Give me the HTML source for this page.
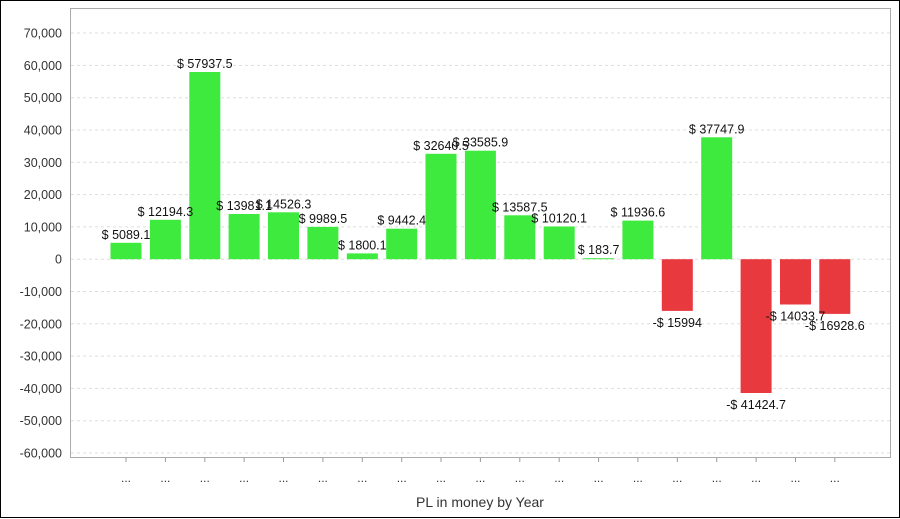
<!DOCTYPE html>
<html><head><style>body{margin:0;background:#fff}svg{display:block;font-family:"Liberation Sans",Arial,sans-serif}</style></head><body>
<svg width="900" height="519" xmlns="http://www.w3.org/2000/svg">
<rect x="0.5" y="0.5" width="899" height="517" fill="#fff" stroke="#000"/>
<rect x="70.5" y="8.5" width="820" height="449" fill="#fff" stroke="#aaa"/>
<g stroke="#ddd" stroke-dasharray="3,3">
<line x1="71" x2="890" y1="33" y2="33"/><line x1="71" x2="890" y1="65.4" y2="65.4"/><line x1="71" x2="890" y1="97.7" y2="97.7"/><line x1="71" x2="890" y1="130" y2="130"/><line x1="71" x2="890" y1="162.3" y2="162.3"/><line x1="71" x2="890" y1="194.6" y2="194.6"/><line x1="71" x2="890" y1="226.9" y2="226.9"/><line x1="71" x2="890" y1="259.2" y2="259.2"/><line x1="71" x2="890" y1="291.5" y2="291.5"/><line x1="71" x2="890" y1="323.8" y2="323.8"/><line x1="71" x2="890" y1="356.1" y2="356.1"/><line x1="71" x2="890" y1="388.4" y2="388.4"/><line x1="71" x2="890" y1="420.7" y2="420.7"/><line x1="71" x2="890" y1="453" y2="453"/>
</g>
<g font-size="12.5" text-anchor="end" fill="#333">
<text x="62" y="37.5">70,000</text><text x="62" y="69.9">60,000</text><text x="62" y="102.2">50,000</text><text x="62" y="134.5">40,000</text><text x="62" y="166.8">30,000</text><text x="62" y="199.1">20,000</text><text x="62" y="231.4">10,000</text><text x="62" y="263.7">0</text><text x="62" y="296">-10,000</text><text x="62" y="328.3">-20,000</text><text x="62" y="360.6">-30,000</text><text x="62" y="392.9">-40,000</text><text x="62" y="425.2">-50,000</text><text x="62" y="457.5">-60,000</text>
</g>
<g fill="#3dea3d">
<rect x="110.5" y="242.8" width="31" height="16.4"/>
<rect x="149.9" y="219.8" width="31" height="39.4"/>
<rect x="189.3" y="72" width="31" height="187.2"/>
<rect x="228.6" y="214" width="31" height="45.2"/>
<rect x="268" y="212.3" width="31" height="46.9"/>
<rect x="307.4" y="226.9" width="31" height="32.3"/>
<rect x="346.8" y="253.4" width="31" height="5.8"/>
<rect x="386.2" y="228.7" width="31" height="30.5"/>
<rect x="425.5" y="153.8" width="31" height="105.4"/>
<rect x="464.9" y="150.7" width="31" height="108.5"/>
<rect x="504.3" y="215.3" width="31" height="43.9"/>
<rect x="543.7" y="226.5" width="31" height="32.7"/>
<rect x="583.1" y="258.2" width="31" height="1"/>
<rect x="622.4" y="220.6" width="31" height="38.6"/>
<rect x="701.2" y="137.3" width="31" height="121.9"/>
</g>
<g fill="#e8393f">
<rect x="661.8" y="259.2" width="31" height="51.7"/>
<rect x="740.6" y="259.2" width="31" height="133.8"/>
<rect x="780" y="259.2" width="31" height="45.3"/>
<rect x="819.3" y="259.2" width="31" height="54.7"/>
</g>
<g font-size="12.5" text-anchor="middle" fill="#111">
<text x="126" y="238.8">$ 5089.1</text>
<text x="165.4" y="215.8">$ 12194.3</text>
<text x="204.8" y="68">$ 57937.5</text>
<text x="244.1" y="210">$ 13981.1</text>
<text x="283.5" y="208.3">$ 14526.3</text>
<text x="322.9" y="222.9">$ 9989.5</text>
<text x="362.3" y="249.4">$ 1800.1</text>
<text x="401.7" y="224.7">$ 9442.4</text>
<text x="441" y="149.8">$ 32640.5</text>
<text x="480.4" y="146.7">$ 33585.9</text>
<text x="519.8" y="211.3">$ 13587.5</text>
<text x="559.2" y="222.5">$ 10120.1</text>
<text x="598.6" y="254.2">$ 183.7</text>
<text x="637.9" y="216.6">$ 11936.6</text>
<text x="677.3" y="326.9">-$ 15994</text>
<text x="716.7" y="133.3">$ 37747.9</text>
<text x="756.1" y="409">-$ 41424.7</text>
<text x="795.5" y="320.5">-$ 14033.7</text>
<text x="834.8" y="329.9">-$ 16928.6</text>
</g>
<g stroke="#999">
<line x1="126" x2="126" y1="458" y2="462"/><line x1="165.4" x2="165.4" y1="458" y2="462"/><line x1="204.8" x2="204.8" y1="458" y2="462"/><line x1="244.1" x2="244.1" y1="458" y2="462"/><line x1="283.5" x2="283.5" y1="458" y2="462"/><line x1="322.9" x2="322.9" y1="458" y2="462"/><line x1="362.3" x2="362.3" y1="458" y2="462"/><line x1="401.7" x2="401.7" y1="458" y2="462"/><line x1="441" x2="441" y1="458" y2="462"/><line x1="480.4" x2="480.4" y1="458" y2="462"/><line x1="519.8" x2="519.8" y1="458" y2="462"/><line x1="559.2" x2="559.2" y1="458" y2="462"/><line x1="598.6" x2="598.6" y1="458" y2="462"/><line x1="637.9" x2="637.9" y1="458" y2="462"/><line x1="677.3" x2="677.3" y1="458" y2="462"/><line x1="716.7" x2="716.7" y1="458" y2="462"/><line x1="756.1" x2="756.1" y1="458" y2="462"/><line x1="795.5" x2="795.5" y1="458" y2="462"/><line x1="834.8" x2="834.8" y1="458" y2="462"/>
</g>
<g font-size="12" text-anchor="middle" fill="#333">
<text x="126" y="482">...</text><text x="165.4" y="482">...</text><text x="204.8" y="482">...</text><text x="244.1" y="482">...</text><text x="283.5" y="482">...</text><text x="322.9" y="482">...</text><text x="362.3" y="482">...</text><text x="401.7" y="482">...</text><text x="441" y="482">...</text><text x="480.4" y="482">...</text><text x="519.8" y="482">...</text><text x="559.2" y="482">...</text><text x="598.6" y="482">...</text><text x="637.9" y="482">...</text><text x="677.3" y="482">...</text><text x="716.7" y="482">...</text><text x="756.1" y="482">...</text><text x="795.5" y="482">...</text><text x="834.8" y="482">...</text>
</g>
<text x="480" y="507" font-size="14" text-anchor="middle" fill="#333">PL in money by Year</text>
</svg></body></html>
